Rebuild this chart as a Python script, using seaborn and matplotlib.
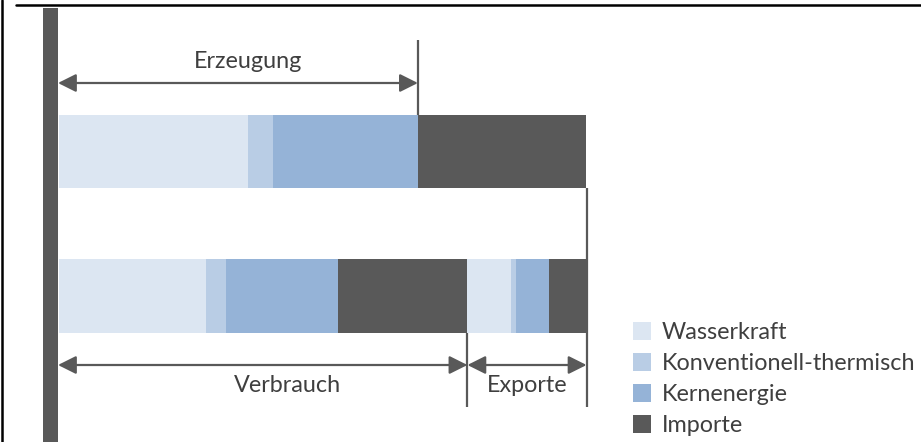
import matplotlib
matplotlib.use("Agg")
import matplotlib.pyplot as plt
from matplotlib.lines import Line2D
from matplotlib.patches import Patch
import seaborn as sns
import pandas as pd

# ---- data (shares of total) ----
bars = ["Erzeugung", "Verbrauch"]
sources = ["Wasserkraft", "Konventionell-thermisch", "Kernenergie", "Importe"]
colors = ["#dce6f2", "#b9cde5", "#95b3d7", "#595959"]
top_values = [35.9, 4.7, 27.5, 31.9]              # Erzeugung + Importe
verbrauch_values = [27.9, 3.8, 21.3, 24.5]        # domestic consumption
export_values = [8.3, 0.95, 6.3, 7.05]            # exports
labels_bottom = ["Verbrauch", "Exporte"]

sns.set_theme(style="white")
plt.rcParams["font.family"] = ["Lato", "DejaVu Sans"]
TXT = "#3f3f3f"
GRAY = "#595959"
FS = 16.8

W, H = 921, 442
fig = plt.figure(figsize=(W / 100, H / 100), dpi=100)
ax = fig.add_axes([0, 0, 1, 1])

# build segments (bar, source, start, end)
rows = []
cum = 0.0
for s, v in zip(sources, top_values):
    rows.append((bars[0], s, cum, cum + v)); cum += v
cum = 0.0
for s, v in zip(sources, verbrauch_values):
    rows.append((bars[1], s, cum, cum + v)); cum += v
verbrauch_end = cum
for s, v in zip(sources, export_values):
    rows.append((bars[1], s, cum, cum + v)); cum += v
total_bottom = cum
df = pd.DataFrame(rows, columns=["bar", "source", "start", "end"])
cmap = dict(zip(sources, colors))

# draw cumulative bars, largest first (stacked effect)
for _, r in df.sort_values("end", ascending=False).iterrows():
    sns.barplot(x=[r["end"]], y=[r["bar"]], order=bars, orient="h",
                color=cmap[r["source"]], saturation=1, width=0.509,
                linewidth=0, ax=ax)

# coordinate mapping: px 59 -> 0, px 586 -> 100
sx = 527 / 100.0
ax.set_xlim(-59 / sx, (W - 59) / sx)
ax.set_ylim((H - 151.5) / 144.5, -151.5 / 144.5)
ax.axis("off")

def py(p):
    return (p - 151.5) / 144.5

def px(p):
    return (p - 59) / sx

erz_end = sum(top_values[:3])

# thick left bar
ax.axvspan(px(43), px(58), ymin=0, ymax=1 - 8 / H, color=GRAY, lw=0)

arrow = dict(arrowstyle="<|-|>,head_length=1.1,head_width=0.55",
             mutation_scale=10, color=GRAY, lw=1.6, shrinkA=0, shrinkB=0)
# Erzeugung
ax.plot([erz_end, erz_end], [py(40), py(115)], color=GRAY, lw=1.6,
        solid_capstyle="butt")
ax.annotate("", xy=(erz_end, py(83)), xytext=(px(58), py(83)), arrowprops=arrow)
ax.text(px(248), py(61), "Erzeugung", ha="center", va="center",
        fontsize=FS, color=TXT)
# right border line
ax.plot([total_bottom, total_bottom], [py(188), py(407)], color=GRAY, lw=1.6,
        solid_capstyle="butt")
# Verbrauch / Exporte
ax.plot([verbrauch_end, verbrauch_end], [py(333), py(407)], color=GRAY, lw=1.6,
        solid_capstyle="butt")
ax.annotate("", xy=(verbrauch_end, py(365)), xytext=(px(58), py(365)),
            arrowprops=arrow)
ax.annotate("", xy=(total_bottom, py(365)), xytext=(verbrauch_end, py(365)),
            arrowprops=arrow)
ax.text(px(287), py(385), labels_bottom[0], ha="center", va="center",
        fontsize=FS, color=TXT)
ax.text((verbrauch_end + total_bottom) / 2, py(385), labels_bottom[1],
        ha="center", va="center", fontsize=FS, color=TXT)

# legend
handles = [Patch(facecolor=c, edgecolor="none", label=s)
           for s, c in zip(sources, colors)]
leg = fig.legend(handles=handles, loc="upper left",
                 bbox_to_anchor=(633 / W, 1 - 322 / H), frameon=False,
                 fontsize=FS, handlelength=0.77, handleheight=0.77,
                 handletextpad=0.47, labelspacing=0.43, borderpad=0,
                 borderaxespad=0)
for t in leg.get_texts():
    t.set_color(TXT)

# outer frame lines
fig.add_artist(Line2D([1.5 / W, 1.5 / W], [0, 1], transform=fig.transFigure,
                      color="black", lw=1.8))
fig.add_artist(Line2D([16 / W, 1], [1 - 4.5 / H, 1 - 4.5 / H],
                      transform=fig.transFigure, color="black", lw=1.8))

fig.savefig("out.png", dpi=100)
